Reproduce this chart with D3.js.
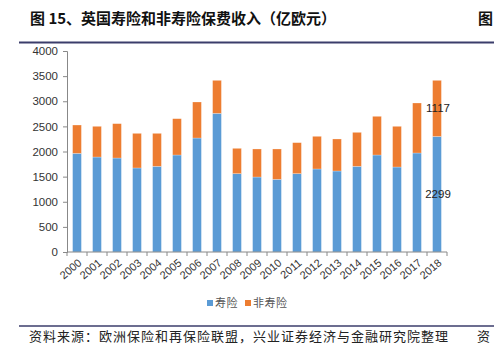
<!DOCTYPE html>
<html>
<head>
<meta charset="utf-8">
<script src="https://cdn.jsdelivr.net/npm/d3@7"></script>
<style>
  body { margin: 0; background: #fff; }
  text { font-family: "Liberation Sans", Arial, sans-serif; }
  .cjk { font-family: "Noto Sans CJK SC", sans-serif; }
</style>
</head>
<body>
<div id="chart"></div>
<script>
// chart data (亿欧元)
const years = ['2000', '2001', '2002', '2003', '2004', '2005', '2006', '2007', '2008', '2009',
    '2010', '2011', '2012', '2013', '2014', '2015', '2016', '2017', '2018'];
const life = [1963, 1890, 1870, 1672, 1705, 1930, 2268, 2759, 1559, 1492,
    1446, 1559, 1652, 1612, 1705, 1930, 1691, 1970, 2299];
const nonLife = [564, 611, 684, 689, 656, 723, 717, 657, 504, 558,
    604, 617, 650, 637, 676, 770, 810, 995, 1117];
const yTicks = [0, 500, 1000, 1500, 2000, 2500, 3000, 3500, 4000];
const seriesNames = ['寿险', '非寿险'];
const colors = ['#5b9bd5', '#ed7d31'];

const W = 494, H = 350;
const margin = { top: 51, right: 47, bottom: 98, left: 67 };
const width = W - margin.left - margin.right;
const height = H - margin.top - margin.bottom;

const svg = d3.select('#chart').append('svg')
    .attr('width', W)
    .attr('height', H);

// header
svg.append('text')
    .attr('class', 'cjk')
    .attr('x', 30)
    .attr('y', 24)
    .style('font-size', '15px')
    .style('font-weight', 'bold')
    .attr('fill', '#111')
    .text('图 15、英国寿险和非寿险保费收入（亿欧元）');
svg.append('text')
    .attr('class', 'cjk')
    .attr('x', 478)
    .attr('y', 24)
    .style('font-size', '15px')
    .style('font-weight', 'bold')
    .attr('fill', '#111')
    .text('图');
svg.append('line')
    .attr('x1', 19).attr('x2', W)
    .attr('y1', 42.5).attr('y2', 42.5)
    .attr('stroke', '#3b3d6b')
    .attr('stroke-width', 2);

const plot = svg.append('g')
    .attr('transform', `translate(${margin.left},${margin.top})`);

// scales
const x = d3.scaleBand()
    .domain(years)
    .range([0, width])
    .paddingInner(0.56)
    .paddingOuter(0.28);

const y = d3.scaleLinear()
    .domain([0, 4000])
    .range([height, 0]);

// stacked data
const table = years.map((yr, i) => ({ year: yr, life: life[i], nonLife: nonLife[i] }));
const stack = d3.stack().keys(['life', 'nonLife'])(table);

plot.selectAll('g.layer')
    .data(stack)
    .enter()
    .append('g')
    .attr('class', 'layer')
    .attr('fill', (d, i) => colors[i])
    .selectAll('rect')
    .data(d => d)
    .enter()
    .append('rect')
    .attr('x', d => x(d.data.year))
    .attr('width', x.bandwidth())
    .attr('y', d => y(d[1]))
    .attr('height', d => y(d[0]) - y(d[1]))
    .attr('stroke', 'rgba(255,255,255,0.5)')
    .attr('stroke-width', 0.5);

// value labels for 2018
const last = table[table.length - 1];
const lx = x(last.year) + x.bandwidth() / 2 + 1;
plot.append('text')
    .attr('x', lx)
    .attr('y', y(last.life + last.nonLife / 2))
    .attr('dy', '0.35em')
    .attr('text-anchor', 'middle')
    .style('font-size', '11.5px')
    .attr('fill', '#222')
    .text(last.nonLife);
plot.append('text')
    .attr('x', lx)
    .attr('y', y(last.life / 2))
    .attr('dy', '0.35em')
    .attr('text-anchor', 'middle')
    .style('font-size', '11.5px')
    .attr('fill', '#222')
    .text(last.life);

// y axis
const yAxis = plot.append('g')
    .call(d3.axisLeft(y).tickValues(yTicks).tickFormat(d3.format('d')).tickSize(4).tickPadding(5));
yAxis.select('.domain').attr('stroke', '#888');
yAxis.selectAll('.tick line').attr('stroke', '#888');
yAxis.selectAll('.tick text')
    .style('font-size', '11.5px')
    .attr('fill', '#333');

// x axis: ticks between categories
const xAxis = plot.append('g')
    .attr('transform', `translate(0,${height})`);
xAxis.append('line')
    .attr('x1', 0).attr('x2', width)
    .attr('stroke', '#888');
const step = x.step();
xAxis.selectAll('line.tk')
    .data(d3.range(years.length + 1))
    .enter()
    .append('line')
    .attr('class', 'tk')
    .attr('x1', d => d * step).attr('x2', d => d * step)
    .attr('y1', 0).attr('y2', 4)
    .attr('stroke', '#888');
xAxis.selectAll('text')
    .data(years)
    .enter()
    .append('text')
    .attr('transform', d => `translate(${x(d) + x.bandwidth() / 2 + 3},9) rotate(-40)`)
    .attr('text-anchor', 'end')
    .attr('dy', '0.35em')
    .style('font-size', '11px')
    .attr('fill', '#333')
    .text(d => d);

// legend
const legend = svg.append('g')
    .attr('transform', 'translate(207,303)');
const lg = legend.selectAll('g')
    .data(seriesNames)
    .enter()
    .append('g')
    .attr('transform', (d, i) => `translate(${i * 38},0)`);
lg.append('rect')
    .attr('x', 0).attr('y', -3)
    .attr('width', 6).attr('height', 6)
    .attr('fill', (d, i) => colors[i]);
lg.append('text')
    .attr('class', 'cjk')
    .attr('x', 8)
    .attr('dy', '0.35em')
    .style('font-size', '11px')
    .style('letter-spacing', '0.5px')
    .attr('fill', '#555')
    .text(d => d);

// footer
svg.append('line')
    .attr('x1', 19).attr('x2', W)
    .attr('y1', 326).attr('y2', 326)
    .attr('stroke', '#3b3d6b')
    .attr('stroke-width', 1.5);
svg.append('text')
    .attr('class', 'cjk')
    .attr('x', 29)
    .attr('y', 341)
    .style('font-size', '13px')
    .style('letter-spacing', '1px')
    .attr('fill', '#222')
    .text('资料来源：欧洲保险和再保险联盟，兴业证券经济与金融研究院整理');
svg.append('text')
    .attr('class', 'cjk')
    .attr('x', 477)
    .attr('y', 341)
    .style('font-size', '13px')
    .attr('fill', '#222')
    .text('资');
</script>
</body>
</html>
